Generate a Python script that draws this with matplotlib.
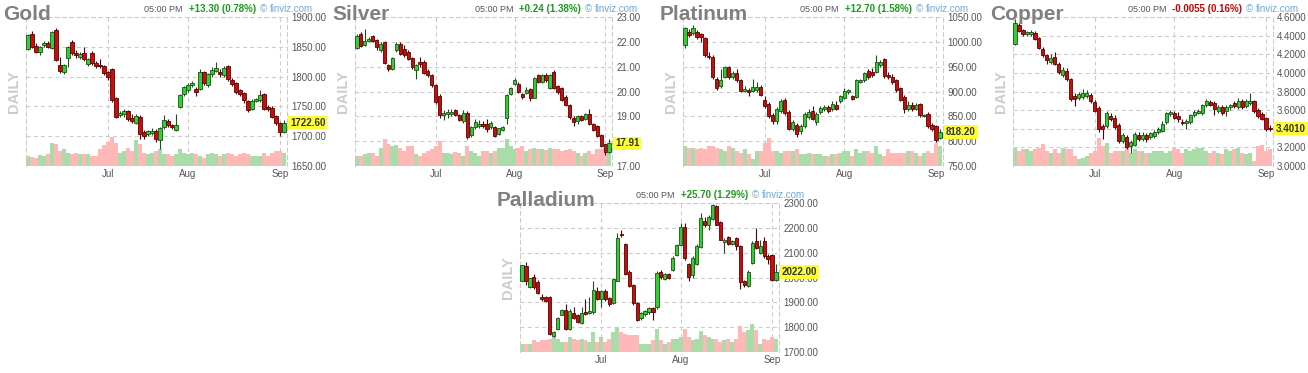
import matplotlib
matplotlib.use("Agg")
import matplotlib.pyplot as plt
import numpy as np

plt.rcParams['font.family'] = ['Liberation Sans', 'DejaVu Sans']

# month start positions (candle index) and labels
months = ['Jul', 'Aug', 'Sep']
month_idx = [20, 40, 63]

# ---- Gold ----
gold_open = [1847, 1872, 1852, 1841, 1853, 1856, 1848, 1878, 1819, 1807,
             1832, 1858, 1840, 1833, 1840, 1821, 1840, 1822, 1820, 1818,
             1808, 1813, 1764, 1735, 1737, 1742, 1731, 1722, 1733, 1707,
             1704, 1706, 1709, 1693, 1715, 1726, 1718, 1711, 1749, 1771,
             1778, 1786, 1779, 1779, 1807, 1786, 1804, 1810, 1808, 1803,
             1817, 1794, 1789, 1777, 1772, 1759, 1746, 1759, 1761, 1771,
             1749, 1748, 1734, 1722, 1707]
gold_close = [1869, 1850, 1842, 1850, 1857, 1850, 1874, 1828, 1809, 1819,
              1849, 1839, 1836, 1838, 1829, 1829, 1822, 1818, 1817, 1806,
              1800, 1761, 1733, 1739, 1742, 1729, 1725, 1734, 1704, 1701,
              1708, 1709, 1696, 1713, 1727, 1718, 1715, 1719, 1769, 1782,
              1786, 1790, 1775, 1807, 1789, 1804, 1811, 1814, 1804, 1814,
              1796, 1788, 1774, 1771, 1760, 1744, 1759, 1762, 1769, 1746,
              1746, 1733, 1722, 1707, 1722.6]
gold_high = [1872, 1877, 1856, 1852, 1860, 1860, 1876, 1881, 1833, 1821,
             1852, 1861, 1845, 1842, 1850, 1832, 1843, 1826, 1829, 1820,
             1810, 1815, 1766, 1742, 1746, 1744, 1738, 1737, 1735, 1710,
             1711, 1714, 1712, 1715, 1735, 1729, 1720, 1738, 1771, 1784,
             1789, 1793, 1782, 1812, 1810, 1806, 1816, 1824, 1812, 1817,
             1819, 1797, 1791, 1780, 1775, 1761, 1762, 1764, 1778, 1773,
             1752, 1751, 1736, 1724, 1727]
gold_low = [1845, 1848, 1840, 1836, 1850, 1848, 1846, 1826, 1806, 1805,
            1816, 1836, 1832, 1830, 1826, 1818, 1819, 1815, 1814, 1802,
            1795, 1758, 1730, 1732, 1733, 1726, 1722, 1720, 1695, 1695,
            1700, 1702, 1690, 1678, 1712, 1715, 1712, 1708, 1748, 1768,
            1775, 1783, 1768, 1777, 1786, 1783, 1800, 1807, 1800, 1800,
            1793, 1784, 1771, 1768, 1756, 1740, 1744, 1757, 1758, 1744,
            1742, 1730, 1718, 1700, 1705]
gold_vol = [30, 28, 25, 32, 30, 35, 68, 65, 45, 52,
            40, 35, 40, 35, 35, 35, 30, 30, 52, 62,
            72, 87, 70, 40, 45, 55, 45, 79, 67, 40,
            35, 40, 45, 50, 35, 35, 30, 35, 50, 40,
            35, 40, 35, 30, 25, 35, 40, 35, 30, 35,
            40, 35, 30, 35, 38, 35, 30, 30, 30, 40,
            30, 40, 45, 45, 40]

# ---- Silver ----
silver_open = [21.75, 22.33, 21.86, 22.03, 22.22, 22.06, 21.66, 21.99, 21.05, 20.89,
               21.66, 21.93, 21.72, 21.59, 21.36, 20.85, 21.19, 21.19, 20.83, 20.65,
               20.25, 19.82, 19.07, 19.10, 19.11, 19.24, 19.04, 18.80, 19.13, 18.23,
               18.57, 18.60, 18.68, 18.70, 18.57, 18.57, 18.30, 18.46, 18.95, 19.91,
               20.32, 20.32, 19.91, 19.95, 20.11, 19.75, 20.65, 20.38, 20.65, 20.15,
               20.79, 20.21, 20.15, 19.78, 19.44, 18.95, 18.81, 19.01, 18.91, 19.08,
               18.70, 18.60, 18.23, 17.87, 17.56]
silver_close = [22.22, 21.82, 22.03, 22.13, 22.03, 21.79, 21.90, 21.15, 20.89, 21.36,
                21.90, 21.52, 21.46, 21.32, 20.99, 21.05, 21.09, 20.75, 20.65, 20.25,
                19.58, 19.04, 19.13, 19.16, 19.17, 19.04, 18.87, 19.13, 18.17, 18.57,
                18.76, 18.68, 18.60, 18.50, 18.74, 18.19, 18.52, 18.57, 19.85, 20.15,
                20.45, 19.98, 19.78, 20.07, 19.75, 20.56, 20.38, 20.65, 20.45, 20.65,
                20.15, 19.98, 19.64, 19.44, 18.97, 18.77, 19.00, 18.87, 19.08, 18.68,
                18.46, 18.19, 17.79, 17.56, 17.91]
silver_high = [22.30, 22.40, 22.53, 22.20, 22.26, 22.10, 21.99, 22.03, 21.10, 21.40,
               21.99, 21.99, 21.86, 21.66, 21.40, 21.10, 21.40, 21.25, 20.90, 20.70,
               20.30, 19.88, 19.25, 19.30, 19.30, 19.28, 19.10, 19.25, 19.20, 18.60,
               18.90, 18.85, 18.80, 18.90, 18.80, 18.60, 18.55, 18.60, 19.90, 20.20,
               20.55, 20.38, 19.95, 20.20, 20.15, 20.60, 20.70, 20.72, 20.75, 20.70,
               20.85, 20.25, 20.20, 19.85, 19.50, 19.00, 19.05, 19.05, 19.12, 19.30,
               18.75, 18.65, 18.28, 17.90, 18.10]
silver_low = [21.72, 21.78, 21.82, 21.99, 21.99, 21.66, 21.60, 21.10, 20.82, 20.85,
              21.59, 21.46, 21.40, 21.25, 20.92, 20.52, 21.00, 20.70, 20.60, 20.20,
              19.50, 18.95, 18.85, 18.95, 19.00, 19.00, 18.80, 18.75, 18.10, 18.18,
              18.50, 18.55, 18.55, 18.35, 18.50, 18.15, 18.25, 18.40, 18.70, 19.85,
              20.25, 19.95, 19.70, 19.90, 19.60, 19.72, 20.35, 20.35, 20.40, 20.12,
              20.12, 19.90, 19.60, 19.40, 18.90, 18.60, 18.70, 18.80, 18.85, 18.65,
              18.40, 18.15, 17.75, 17.45, 17.52]
silver_vol = [30, 30, 35, 38, 40, 30, 55, 82, 65, 60,
              62, 55, 45, 60, 60, 35, 30, 40, 45, 50,
              60, 75, 40, 40, 35, 42, 40, 30, 60, 45,
              40, 30, 45, 45, 38, 45, 55, 55, 82, 60,
              50, 55, 60, 45, 50, 55, 52, 50, 48, 55,
              50, 50, 45, 48, 52, 45, 40, 30, 40, 45,
              35, 50, 50, 55, 65]

# ---- Platinum ----
plat_open = [993, 1020, 1017, 1019, 1015, 1007, 971, 970, 925, 911,
             930, 949, 929, 938, 923, 901, 903, 901, 903, 910,
             883, 875, 853, 840, 860, 883, 858, 825, 833, 820,
             830, 849, 860, 838, 858, 864, 869, 864, 873, 880,
             887, 898, 890, 889, 920, 923, 941, 940, 940, 953,
             965, 933, 930, 923, 907, 889, 865, 873, 865, 875,
             850, 855, 833, 830, 807]
plat_close = [1027, 1013, 1028, 1010, 1010, 973, 969, 929, 907, 923,
              949, 929, 938, 923, 901, 905, 900, 909, 909, 893,
              870, 850, 840, 865, 881, 857, 825, 838, 815, 831,
              855, 858, 845, 855, 867, 869, 860, 875, 865, 890,
              900, 903, 885, 923, 923, 938, 929, 933, 960, 960,
              931, 929, 919, 903, 883, 865, 873, 865, 873, 852,
              853, 830, 825, 803, 818.2]
plat_high = [1030, 1025, 1033, 1023, 1018, 1010, 980, 973, 930, 945,
             952, 951, 942, 945, 926, 912, 908, 925, 920, 913,
             891, 878, 857, 868, 884, 886, 862, 842, 836, 835,
             858, 865, 870, 858, 870, 873, 873, 880, 880, 893,
             908, 905, 893, 925, 926, 940, 945, 948, 973, 963,
             967, 940, 935, 926, 910, 892, 880, 878, 877, 877,
             855, 858, 836, 833, 825]
plat_low = [988, 1010, 1014, 1005, 1000, 970, 965, 925, 903, 908,
            927, 925, 925, 920, 898, 898, 890, 899, 900, 890,
            866, 846, 835, 835, 856, 853, 822, 820, 808, 815,
            827, 845, 843, 833, 855, 860, 857, 860, 862, 877,
            885, 895, 882, 886, 917, 920, 926, 930, 937, 950,
            928, 925, 915, 898, 880, 856, 860, 860, 862, 849,
            848, 827, 820, 798, 805]
plat_vol = [60, 55, 55, 50, 55, 50, 60, 60, 55, 50,
            45, 60, 55, 45, 40, 50, 35, 20, 45, 45,
            70, 85, 45, 45, 40, 45, 45, 45, 50, 35,
            35, 40, 35, 35, 35, 30, 30, 35, 35, 40,
            45, 45, 30, 52, 40, 45, 45, 40, 60, 35,
            30, 50, 40, 40, 40, 40, 45, 45, 40, 30,
            40, 45, 40, 70, 60]

# ---- Copper ----
copper_open = [4.31, 4.51, 4.46, 4.42, 4.42, 4.43, 4.37, 4.26, 4.19, 4.12,
               4.17, 4.10, 3.98, 4.02, 3.93, 3.75, 3.73, 3.74, 3.75, 3.76,
               3.69, 3.62, 3.43, 3.43, 3.54, 3.52, 3.44, 3.27, 3.31, 3.22,
               3.23, 3.33, 3.29, 3.33, 3.31, 3.32, 3.36, 3.38, 3.47, 3.56,
               3.57, 3.54, 3.47, 3.46, 3.47, 3.55, 3.57, 3.57, 3.65, 3.69,
               3.68, 3.59, 3.63, 3.59, 3.63, 3.68, 3.63, 3.70, 3.64, 3.68,
               3.70, 3.60, 3.56, 3.52, 3.41]
copper_close = [4.54, 4.45, 4.42, 4.44, 4.44, 4.36, 4.27, 4.19, 4.14, 4.16,
                4.10, 4.01, 4.03, 3.93, 3.72, 3.72, 3.77, 3.78, 3.78, 3.70,
                3.59, 3.40, 3.40, 3.57, 3.50, 3.42, 3.27, 3.33, 3.20, 3.26,
                3.34, 3.29, 3.33, 3.29, 3.35, 3.37, 3.40, 3.45, 3.57, 3.58,
                3.52, 3.50, 3.46, 3.48, 3.55, 3.58, 3.59, 3.65, 3.70, 3.66,
                3.61, 3.63, 3.57, 3.63, 3.65, 3.64, 3.70, 3.63, 3.70, 3.70,
                3.59, 3.54, 3.51, 3.40, 3.401]
copper_high = [4.58, 4.54, 4.47, 4.45, 4.46, 4.45, 4.38, 4.28, 4.20, 4.20,
               4.22, 4.12, 4.06, 4.05, 3.95, 3.78, 3.80, 3.83, 3.82, 3.78,
               3.71, 3.64, 3.45, 3.59, 3.57, 3.55, 3.46, 3.35, 3.33, 3.28,
               3.36, 3.36, 3.36, 3.35, 3.37, 3.39, 3.42, 3.48, 3.58, 3.60,
               3.59, 3.58, 3.50, 3.50, 3.56, 3.60, 3.61, 3.67, 3.72, 3.71,
               3.70, 3.66, 3.65, 3.65, 3.67, 3.70, 3.73, 3.72, 3.72, 3.78,
               3.71, 3.62, 3.58, 3.53, 3.44]
copper_low = [4.30, 4.44, 4.40, 4.40, 4.40, 4.35, 4.26, 4.17, 4.10, 4.10,
              4.08, 3.99, 3.96, 3.91, 3.70, 3.64, 3.71, 3.72, 3.73, 3.68,
              3.58, 3.37, 3.29, 3.41, 3.48, 3.40, 3.25, 3.25, 3.18, 3.14,
              3.21, 3.27, 3.27, 3.26, 3.29, 3.30, 3.34, 3.37, 3.45, 3.54,
              3.50, 3.47, 3.44, 3.40, 3.45, 3.53, 3.56, 3.55, 3.63, 3.64,
              3.55, 3.57, 3.55, 3.54, 3.60, 3.62, 3.61, 3.61, 3.62, 3.66,
              3.57, 3.52, 3.49, 3.38, 3.38]
copper_vol = [55, 45, 50, 50, 45, 50, 55, 65, 45, 40,
              50, 40, 55, 50, 50, 30, 20, 25, 30, 40,
              45, 85, 60, 70, 40, 45, 45, 45, 55, 40,
              50, 45, 45, 40, 40, 45, 45, 45, 40, 45,
              55, 50, 40, 50, 45, 50, 55, 55, 45, 40,
              45, 40, 35, 50, 45, 50, 55, 40, 35, 40,
              15, 60, 62, 45, 50]

# ---- Palladium ----
pall_open = [1987, 2047, 1960, 2003, 1980, 1923, 1920, 1923, 1763, 1793,
             1851, 1869, 1793, 1856, 1847, 1816, 1863, 1856, 1860, 1944,
             1913, 1944, 1916, 1896, 1987, 2176, 2133, 2024, 1969, 1896,
             1836, 1853, 1860, 1877, 1880, 2024, 1993, 2016, 2029, 2091,
             2129, 2203, 2053, 2011, 2053, 2123, 2229, 2211, 2237, 2287,
             2224, 2144, 2163, 2136, 2160, 2127, 1987, 1967, 2060, 2147,
             2100, 2147, 2087, 2089, 1989]
pall_close = [2049, 1984, 1996, 1960, 1936, 1913, 1907, 1773, 1780, 1836,
              1869, 1793, 1867, 1837, 1820, 1856, 1853, 1864, 1949, 1913,
              1944, 1913, 1893, 1993, 2160, 2171, 2013, 1967, 1896, 1827,
              1856, 1867, 1877, 1860, 2020, 2003, 2016, 2000, 2080, 2129,
              2203, 2077, 2003, 2077, 2127, 2240, 2211, 2243, 2291, 2213,
              2153, 2149, 2133, 2147, 2127, 1980, 1971, 2024, 2140, 2120,
              2127, 2087, 2073, 1989, 2022]
pall_high = [2050, 2063, 2000, 2015, 1990, 1932, 1925, 1925, 1785, 1840,
             1872, 1895, 1875, 1880, 1855, 1880, 1915, 1920, 1985, 1960,
             1950, 1955, 1920, 2000, 2180, 2190, 2140, 2030, 1975, 1900,
             1860, 1870, 1880, 1882, 2025, 2030, 2020, 2020, 2085, 2135,
             2220, 2220, 2058, 2085, 2135, 2260, 2245, 2250, 2297, 2290,
             2228, 2160, 2168, 2150, 2165, 2130, 1990, 2030, 2145, 2200,
             2150, 2165, 2095, 2095, 2055]
pall_low = [1985, 1970, 1957, 1955, 1933, 1905, 1900, 1770, 1760, 1790,
            1848, 1790, 1790, 1833, 1815, 1813, 1850, 1852, 1855, 1910,
            1880, 1905, 1887, 1893, 1985, 2165, 2010, 1960, 1890, 1823,
            1830, 1845, 1855, 1830, 1875, 1995, 1990, 1993, 2026, 2085,
            2126, 2070, 1985, 2000, 2050, 2120, 2205, 2190, 2233, 2210,
            2150, 2100, 2130, 2130, 2110, 1955, 1963, 1960, 2055, 2115,
            2095, 2080, 2055, 1985, 1985]
pall_vol = [25, 25, 25, 35, 30, 35, 35, 40, 45, 40,
            30, 30, 45, 40, 35, 40, 35, 30, 60, 30,
            45, 30, 40, 60, 75, 60, 55, 50, 50, 50,
            25, 25, 25, 35, 70, 35, 25, 30, 40, 40,
            45, 68, 45, 35, 40, 63, 50, 45, 40, 40,
            30, 35, 40, 30, 40, 80, 60, 65, 85, 65,
            25, 40, 35, 45, 40]

W, H = 1308, 373
fig = plt.figure(figsize=(W / 100, H / 100), dpi=100)

GRID = '#cccccc'
DASH = (0, (3.5, 3))
vol_top = 450  # volume axis top, arbitrary units


def panel(name, box, o, h, l, c, vol, yticks, fmt, change, chg_color):
    x0, x1, ytop, ybot = box
    ax = fig.add_axes([x0 / W, 1 - ybot / H, (x1 - x0) / W, (ybot - ytop) / H])
    o, h, l, c, vol = [np.asarray(a, dtype=float) for a in (o, h, l, c, vol)]
    idx = np.arange(len(c))
    up = c >= o

    ax.set_axisbelow(True)
    ax.grid(True, color=GRID, linestyle=DASH, linewidth=0.8)

    # volume in the lower part of the panel
    ax.bar(idx, vol / vol_top, width=1.0, bottom=0,
           color=np.where(up, '#a9dca9', '#ffb8b8'),
           transform=ax.get_xaxis_transform(), zorder=1.5)

    edge = np.where(up, '#1e4d1e', '#5a0000')
    ax.vlines(idx, l, h, colors=edge, linewidth=0.8, zorder=3)
    rng = yticks[-1] - yticks[0]
    body = np.maximum(np.abs(c - o), rng * 0.004)
    ax.bar(idx, body, bottom=np.minimum(o, c), width=0.8,
           color=np.where(up, '#2fd12f', '#c40f0f'), edgecolor=edge,
           linewidth=0.6, zorder=4)

    ax.set_xlim(-0.5, len(c) - 0.25)
    ax.set_ylim(yticks[0], yticks[-1])
    ax.set_yticks(yticks, [fmt.format(t) for t in yticks])
    ax.yaxis.tick_right()
    ax.set_xticks(month_idx, months)
    ax.tick_params(length=0, labelsize=7, labelcolor='#555555')
    ax.tick_params(axis='y', pad=3)
    ax.tick_params(axis='x', pad=2)
    for s in ('left', 'right', 'top'):
        ax.spines[s].set_color(GRID)
        ax.spines[s].set_linestyle(DASH)
        ax.spines[s].set_linewidth(0.8)
    ax.spines['bottom'].set_visible(False)

    # last price highlight
    ax.annotate(fmt.format(c[-1]), xy=(1, c[-1]), xycoords=ax.get_yaxis_transform(),
                xytext=(3, 0), textcoords='offset pixels', ha='left', va='center',
                fontsize=7, fontweight='bold', color='#333333',
                bbox=dict(boxstyle='square,pad=0.18', fc='#ffff33', ec='none'))

    # titles and header
    ax.annotate(name, xy=(0, 1), xycoords='axes fraction', xytext=(-23, -3),
                textcoords='offset pixels', ha='left', va='baseline',
                fontsize=15, fontweight='bold', color='#808080', zorder=6)
    ax.annotate('DAILY', xy=(0, 0.5), xycoords='axes fraction', xytext=(-12, 0),
                textcoords='offset pixels', ha='center', va='center', rotation=90,
                fontsize=10.5, fontweight='bold', color='#cccccc')
    ch = ax.annotate(change, xy=(1, 1), xycoords='axes fraction', xytext=(-31, 8),
                     textcoords='offset pixels', ha='right', va='center',
                     fontsize=7, fontweight='bold', color=chg_color)
    ax.annotate('05:00 PM', xy=(0, 0.5), xycoords=ch, xytext=(-6, 0),
                textcoords='offset pixels', ha='right', va='center',
                fontsize=6.5, color='#555555')
    ax.annotate('\u00a9', xy=(1, 1), xycoords='axes fraction', xytext=(-24, 8),
                textcoords='offset pixels', ha='center', va='center',
                fontsize=7, color='#6fa8dc')
    ax.annotate('finviz.com', xy=(1, 1), xycoords='axes fraction', xytext=(-17, 8),
                textcoords='offset pixels', ha='left', va='center',
                fontsize=7, color='#6fa8dc')
    return ax


GREEN, RED = '#1a9a1a', '#cc0000'
panel('Gold', (26, 287, 17, 166), gold_open, gold_high, gold_low, gold_close, gold_vol,
      [1650, 1700, 1750, 1800, 1850, 1900], '{:.2f}', '+13.30 (0.78%)', GREEN)
panel('Silver', (355, 612, 17, 166), silver_open, silver_high, silver_low, silver_close,
      silver_vol, [17, 18, 19, 20, 21, 22, 23], '{:.2f}', '+0.24 (1.38%)', GREEN)
panel('Platinum', (683, 943, 17, 166), plat_open, plat_high, plat_low, plat_close, plat_vol,
      [750, 800, 850, 900, 950, 1000, 1050], '{:.2f}', '+12.70 (1.58%)', GREEN)
panel('Copper', (1013, 1273, 17, 166), copper_open, copper_high, copper_low, copper_close,
      copper_vol, [3.0, 3.2, 3.4, 3.6, 3.8, 4.0, 4.2, 4.4, 4.6], '{:.4f}',
      '-0.0055 (0.16%)', RED)
panel('Palladium', (520, 779, 203, 352), pall_open, pall_high, pall_low, pall_close, pall_vol,
      [1700, 1800, 1900, 2000, 2100, 2200, 2300], '{:.2f}', '+25.70 (1.29%)', GREEN)

fig.savefig('out.png', dpi=100)
